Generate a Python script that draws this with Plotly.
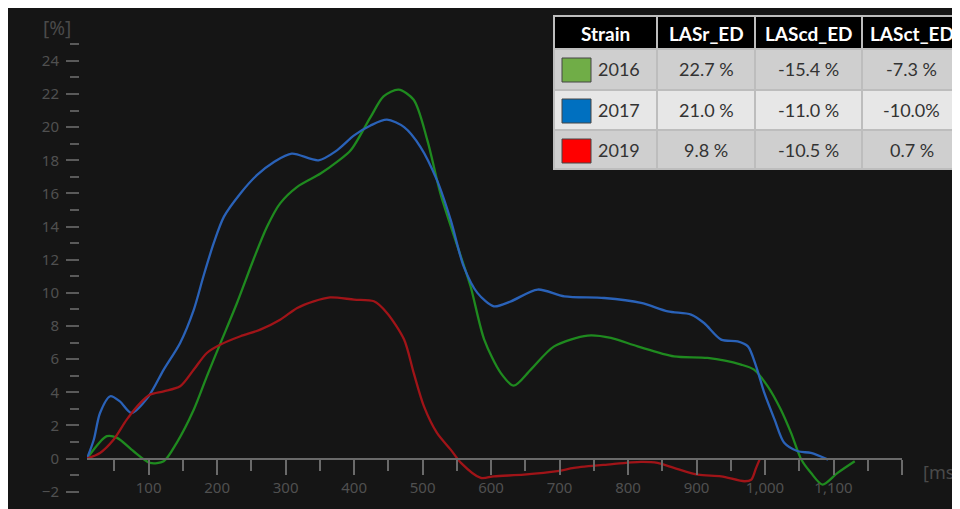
import plotly.graph_objects as go

# ---------------- data ----------------
t_2016 = [10, 39, 54, 78, 102, 122, 141, 166, 185, 205, 229, 253, 273, 292, 317, 351, 375, 395,
          424, 443, 465, 487, 507, 526, 551, 570, 590, 614, 633, 658, 692, 741, 775, 814, 867,
          916, 965, 984, 1004, 1023, 1038, 1053, 1067, 1084, 1106, 1131]
v_2016 = [0, 1.35, 1.25, 0.44, -0.26, -0.16, 0.95, 2.96, 4.96, 6.98, 9.39, 12.0, 14.0, 15.4, 16.4,
          17.2, 17.9, 18.6, 20.6, 21.85, 22.26, 21.65, 19.2, 16.0, 12.8, 10.4, 7.18, 5.17, 4.4,
          5.37, 6.77, 7.42, 7.28, 6.77, 6.17, 6.07, 5.67, 5.37, 4.36, 2.96, 1.55, -0.06, -0.86,
          -1.57, -0.86, -0.16]

t_2017 = [10, 20, 29, 44, 58, 75, 100, 122, 146, 166, 180, 195, 210, 234, 258, 283, 309, 348, 375,
          400, 424, 448, 473, 497, 521, 541, 560, 580, 604, 629, 668, 707, 765, 819, 858, 892,
          911, 936, 960, 975, 987, 999, 1014, 1028, 1048, 1067, 1092]
v_2017 = [0, 1.15, 2.75, 3.76, 3.45, 2.75, 3.76, 5.37, 6.98, 8.99, 11.0, 13.0, 14.6, 16.0, 17.1,
          17.9, 18.4, 18.0, 18.6, 19.5, 20.1, 20.45, 20.0, 18.8, 16.8, 14.4, 11.6, 10.0, 9.19,
          9.49, 10.2, 9.79, 9.69, 9.39, 8.88, 8.69, 8.18, 7.18, 7.07, 6.77, 5.57, 3.96, 2.35,
          0.95, 0.44, 0.34, -0.06]

t_2019 = [10, 29, 49, 68, 88, 102, 122, 146, 166, 185, 205, 234, 263, 292, 317, 341, 365, 400,
          429, 448, 473, 487, 502, 521, 541, 556, 585, 604, 648, 697, 721, 770, 819, 843, 867,
          902, 936, 970, 980, 987, 992]
v_2019 = [0, 0.34, 1.15, 2.35, 3.36, 3.86, 4.06, 4.36, 5.37, 6.37, 6.88, 7.38, 7.78, 8.38, 9.09,
          9.49, 9.73, 9.59, 9.49, 8.79, 7.18, 5.17, 3.15, 1.55, 0.54, -0.26, -1.17, -1.07, -0.97,
          -0.76, -0.56, -0.36, -0.2, -0.26, -0.56, -0.97, -1.07, -1.37, -1.27, -0.56, -0.06]

series_names = ["2016", "2017", "2019"]
line_colors = ["#1f8a1f", "#2a62b8", "#a01418"]
swatch_colors = ["#70ad47", "#0070c0", "#ff0000"]

table_header = ["Strain", "LASr_ED", "LAScd_ED", "LASct_ED"]
lasr = ["22.7 %", "21.0 %", "9.8 %"]
lascd = ["-15.4 %", "-11.0 %", "-10.5 %"]
lasct = ["-7.3 %", "-10.0%", "0.7 %"]

x_tickvals = [100, 200, 300, 400, 500, 600, 700, 800, 900, 1000, 1100, 1200]
x_ticktext = ["100", "200", "300", "400", "500", "600", "700", "800", "900", "1,000", "1,100", ""]
y_tickvals = [-2, 0, 2, 4, 6, 8, 10, 12, 14, 16, 18, 20, 22, 24]

# ---------------- layout geometry (figure pixel coords; page has 8px body margin) ----------------
OFF = 8
W, H = 960, 509
ML, MR, MT, MB = 71, 66, 28, 17
PW = W - ML - MR
PH = H - MT - MB


def px(x):
    # x given in screenshot pixels
    return (x - OFF - ML) / PW


def py(y):
    return 1 - (y - OFF - MT) / PH


BG = "#151515"
GRID_TXT = "#505050"

fig = go.Figure()
for t, v, name, c in zip([t_2016, t_2017, t_2019], [v_2016, v_2017, v_2019], series_names, line_colors):
    fig.add_trace(go.Scatter(x=t, y=v, mode="lines", name=name,
                             line=dict(color=c, width=2.3, shape="spline", smoothing=0.8),
                             showlegend=False, hoverinfo="skip"))

shapes = []
annotations = []

# ---------------- table ----------------
col_x = [554, 657, 755, 862, 961]
row_y = [16, 49, 90, 130, 169]
row_fill = ["#000000", "#cfcfcf", "#e7e7e7", "#cfcfcf"]
shapes.append(dict(type="rect", xref="paper", yref="paper", x0=px(col_x[0] - 1), x1=px(col_x[-1]),
                   y0=py(row_y[-1] + 1), y1=py(row_y[0] - 1), fillcolor="#bdbdbd",
                   line=dict(width=0), layer="above"))
for r in range(4):
    for c in range(4):
        shapes.append(dict(type="rect", xref="paper", yref="paper",
                           x0=px(col_x[c] + 1), x1=px(col_x[c + 1] - 1),
                           y0=py(row_y[r + 1] - 1), y1=py(row_y[r] + 1),
                           fillcolor=row_fill[r], line=dict(width=0), layer="above"))
for c in range(4):
    annotations.append(dict(xref="paper", yref="paper", x=px((col_x[c] + col_x[c + 1]) / 2),
                            y=py((row_y[0] + row_y[1]) / 2 + 1), text="<b>" + table_header[c] + "</b>",
                            showarrow=False, font=dict(family="Lato", size=19, color="white"),
                            xanchor="center", yanchor="middle"))
for r in range(3):
    yc = py((row_y[r + 1] + row_y[r + 2]) / 2)
    shapes.append(dict(type="rect", xref="paper", yref="paper", x0=px(562), x1=px(591),
                       y0=py(row_y[r + 1] + 33), y1=py(row_y[r + 1] + 9),
                       fillcolor=swatch_colors[r], line=dict(color="#444444", width=1), layer="above"))
    annotations.append(dict(xref="paper", yref="paper", x=px(596), y=yc, text=series_names[r],
                            showarrow=False, font=dict(family="Lato", size=18, color="#333333"),
                            xanchor="left", yanchor="middle"))
    for c, vals in zip([1, 2, 3], [lasr, lascd, lasct]):
        annotations.append(dict(xref="paper", yref="paper", x=px((col_x[c] + col_x[c + 1]) / 2), y=yc,
                                text=vals[r], showarrow=False,
                                font=dict(family="Lato", size=18, color="#333333"),
                                xanchor="center", yanchor="middle"))

# axis unit labels
annotations.append(dict(xref="paper", yref="paper", x=px(57), y=py(28), text="[%]", showarrow=False,
                        font=dict(family="Noto Sans", size=19, color="#4a4a4a"),
                        xanchor="center", yanchor="middle"))
annotations.append(dict(xref="paper", yref="paper", x=px(921), y=py(472), text="[ms]", showarrow=False,
                        font=dict(family="Noto Sans", size=18, color="#4a4a4a"),
                        xanchor="left", yanchor="middle"))

fig.update_layout(
    width=W, height=H,
    margin=dict(l=ML, r=MR, t=MT, b=MB),
    paper_bgcolor=BG, plot_bgcolor=BG,
    shapes=shapes, annotations=annotations,
    xaxis=dict(domain=[(79 - ML) / PW, 1], range=[10, 1200], anchor="free", position=2.5 / 28,
               showgrid=False, zeroline=False, showline=True, linecolor="#6a6a6a", linewidth=2,
               ticks="outside", ticklen=15, tickwidth=2, tickcolor="#6a6a6a",
               tickvals=x_tickvals, ticktext=x_ticktext,
               tickfont=dict(family="Noto Sans", size=15, color=GRID_TXT),
               minor=dict(ticks="outside", ticklen=11, tickwidth=2, tickcolor="#6a6a6a",
                          tick0=0, dtick=50)),
    yaxis=dict(range=[-2.5, 25.5], anchor="free", position=0,
               showgrid=False, zeroline=False, showline=False,
               ticks="outside", ticklen=13, tickwidth=2, tickcolor="#5a5a5a",
               tickvals=y_tickvals, ticklabelstandoff=4,
               tickfont=dict(family="Noto Sans", size=15, color=GRID_TXT),
               minor=dict(ticks="outside", ticklen=9, tickwidth=2, tickcolor="#5a5a5a",
                          tick0=-1, dtick=2)),
)

fig.write_html("out.html")
